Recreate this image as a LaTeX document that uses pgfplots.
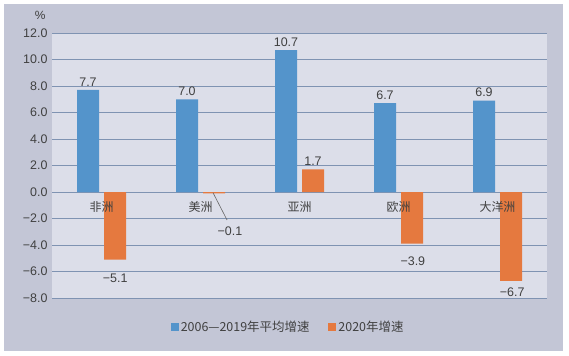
\documentclass[border=0pt]{standalone}
\usepackage{pgfplots}
\pgfplotsset{compat=1.18}
\usepackage{fontspec}
\setmainfont{Liberation Sans}
\newfontfamily\cjk{Noto Sans CJK SC}
\definecolor{outerbg}{HTML}{C3C6D6}
\definecolor{innerbg}{HTML}{DCDEE9}
\definecolor{gridc}{HTML}{7F93B2}
\definecolor{bblue}{HTML}{5494CB}
\definecolor{borange}{HTML}{E5793F}
\definecolor{txt}{HTML}{404040}
\begin{document}
\begin{tikzpicture}[x=1bp,y=1bp]
\fill[white] (0,0) rectangle (569,355);
\fill[outerbg] (4,4) rectangle (563,351);
\begin{axis}[
  at={(52bp,57bp)}, anchor=south west,
  scale only axis, width=495bp, height=265bp,
  xmin=-0.5, xmax=4.5, ymin=-8, ymax=12,
  axis background/.style={fill=innerbg},
  axis line style={draw=none},
  ymajorgrids, grid style={gridc, line width=0.9bp},
  major tick length=0pt,
  xtick=\empty,
  ytick={-8,-6,-4,-2,0,2,4,6,8,10,12},
  yticklabels={−8.0,−6.0,−4.0,−2.0,0.0,2.0,4.0,6.0,8.0,10.0,12.0},
  yticklabel style={font=\fontsize{12.5}{14}\selectfont, text=txt, xshift=-1bp},
  ybar=5bp, bar width=22bp,
  point meta=explicit symbolic,
  every node near coord/.append style={font=\fontsize{12.5}{14}\selectfont, text=txt},
  legend style={draw=none, fill=none, at={(0.477,-0.11)}, anchor=center,
    legend columns=2, font=\cjk\fontsize{12.5}{14}\selectfont, text=txt,
    /tikz/every even column/.append style={column sep=17bp}},
  legend image code/.code={\fill[#1] (0bp,-4bp) rectangle (8bp,4bp);},
  clip=false,
]
\addplot[fill=bblue, draw=none, nodes near coords] table[meta=lab] {
x y lab
0 7.7 7.7
1 7.0 7.0
2 10.7 10.7
3 6.7 6.7
4 6.9 6.9
};
\addplot[fill=borange, draw=none, nodes near coords] table[meta=lab] {
x y lab
0 -5.1 {}
1 -0.1 {}
2 1.7 1.7
3 -3.9 {}
4 -6.7 {}
};
\legend{2006—2019年平均增速, 2020年增速}
\draw[txt!80, line width=0.6bp] (axis cs:1.126,-0.05) -- (axis cs:1.268,-2.11);
\node[font=\fontsize{12.5}{14}\selectfont, text=txt] at (axis cs:1.298,-2.94) {−0.1};
\node[font=\fontsize{12.5}{14}\selectfont, text=txt] at (axis cs:0.139,-6.53) {−5.1};
\node[font=\fontsize{12.5}{14}\selectfont, text=txt] at (axis cs:3.145,-5.21) {−3.9};
\node[font=\fontsize{12.5}{14}\selectfont, text=txt] at (axis cs:4.148,-7.55) {−6.7};
\node[font=\cjk\fontsize{12}{14}\selectfont, text=txt] at (axis cs:0,-1.1) {非洲};
\node[font=\cjk\fontsize{12}{14}\selectfont, text=txt] at (axis cs:1,-1.1) {美洲};
\node[font=\cjk\fontsize{12}{14}\selectfont, text=txt] at (axis cs:2,-1.1) {亚洲};
\node[font=\cjk\fontsize{12}{14}\selectfont, text=txt] at (axis cs:3,-1.1) {欧洲};
\node[font=\cjk\fontsize{12}{14}\selectfont, text=txt] at (axis cs:4,-1.1) {大洋洲};
\node[font=\fontsize{12}{14}\selectfont, text=txt, anchor=south] at (axis cs:-0.62,12.75) {\%};
\end{axis}
\end{tikzpicture}
\end{document}
